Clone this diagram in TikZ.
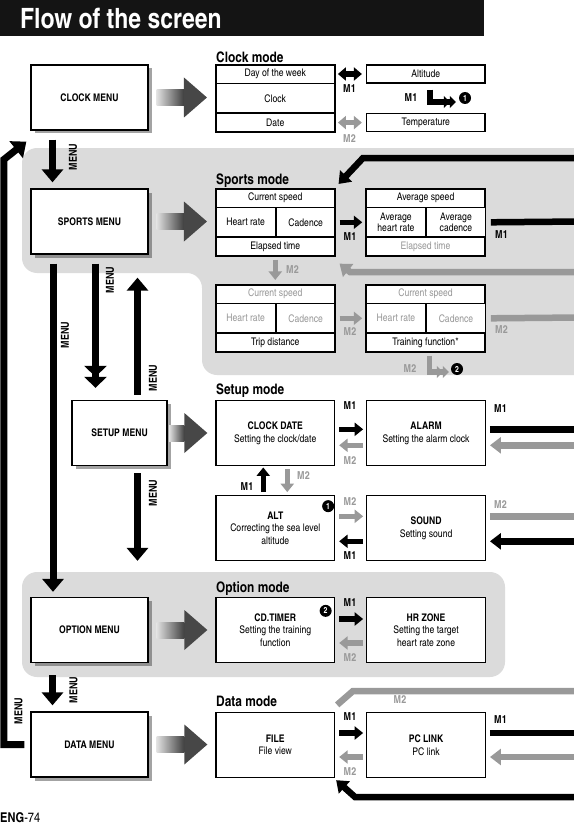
\documentclass[tikz,border=0pt]{standalone}
\usepackage{fontspec}
\setmainfont{texgyreheroscn}[Extension=.otf, UprightFont=*-regular, BoldFont=*-bold, ItalicFont=*-italic, BoldItalicFont=*-bolditalic]
\usetikzlibrary{arrows.meta,positioning,shadows,fit,calc}
\usepackage{xcolor}

\definecolor{areagray}{gray}{0.86}
\definecolor{mgray}{gray}{0.6}

% shaded arrow from a menu to the first screen of its mode
\newcommand{\bigarrow}[3]{%
  \path ([xshift=#3]#1.east) coordinate (ba0) (#1.east -| #2.west) ++(-8,0) coordinate (ba1);
  \shade[left color=black!12, right color=black!75] ($(ba0)+(0,-8)$) rectangle ($(ba1)+(-23,8)$);
  \fill[black!72] ($(ba1)+(-23,-20)$) -- (ba1) -- ($(ba1)+(-23,20)$) -- cycle;
}

\begin{document}
\begin{tikzpicture}[x=1pt, y=-1pt]
\tikzset{
    menubox/.style={rectangle, draw=black, fill=white, line width=1.3pt, minimum width=117pt, minimum height=65pt, inner sep=0pt, font=\bfseries\fontsize{10.5}{12}\selectfont, drop shadow={shadow xshift=3.5pt, shadow yshift=-3.5pt, fill=black!72}},
    modebox/.style={rectangle, draw=black, fill=white, line width=1.3pt, minimum width=118.5pt, minimum height=65pt, inner sep=0pt, align=center, font=\fontsize{10.5}{12.5}\selectfont},
    rowcell/.style={rectangle, draw=black, fill=white, line width=0.8pt, minimum width=118.5pt, minimum height=18pt, inner sep=0pt, font=\fontsize{10.5}{11}\selectfont},
    halfcell/.style={rowcell, minimum width=59.25pt, minimum height=29pt, align=center},
    tableframe/.style={rectangle, draw=black, line width=1.3pt, inner sep=0pt},
    modetitle/.style={anchor=base west, inner sep=0pt, font=\bfseries\fontsize{14.5}{16}\selectfont},
    mlabel/.style={inner sep=0pt, font=\bfseries\fontsize{11}{12}\selectfont},
    mlabelgray/.style={mlabel, text=mgray},
    menulabel/.style={mlabel, rotate=90, font=\bfseries\fontsize{11}{12}\selectfont},
    numdot/.style={circle, fill=black, text=white, inner sep=0pt, minimum size=12pt, font=\bfseries\fontsize{8.5}{8.5}\selectfont},
    menuarrow/.style={draw=black, line width=7pt, -{Triangle[width=21pt,length=13pt]}},
    menudouble/.style={menuarrow, -{Triangle[width=22pt,length=11pt]Triangle[width=22pt,length=11pt]}},
    mone/.style={draw=black, line width=5.5pt, -{Triangle[width=13pt,length=8.5pt]}},
    mtwo/.style={mone, draw=mgray},
    monedbl/.style={draw=black, line width=5.5pt, {Triangle[width=13pt,length=8pt]}-{Triangle[width=13pt,length=8pt]}},
    mtwodbl/.style={monedbl, draw=mgray},
    backblack/.style={draw=black, line width=6.5pt, -{Triangle[width=16pt,length=11pt]}},
    backgray/.style={backblack, draw=mgray},
    bentblack/.style={draw=black, line width=5.5pt, -{Triangle[width=12pt,length=6pt]Triangle[width=12pt,length=6pt]}},
    bentgray/.style={bentblack, draw=mgray}
}
\useasboundingbox (0,0) rectangle (573,824);

% grey areas behind sports and option mode
\fill[areagray, rounded corners=15pt] (100,148) -- (620,148) -- (620,375) -- (202,375) -- (202,273) -- (22,273) -- (22,148) -- cycle;
\fill[areagray, rounded corners=15pt] (22,572) rectangle (505,677);

% title
\fill[black!92] (0,0) rectangle (484,36);
\node[anchor=base west, inner sep=0pt, text=white, font=\bfseries\fontsize{28}{30}\selectfont] (title) at (20,29) {Flow of the screen};

% menus
\node[menubox] (clockmenu) at (89.5,97.5) {CLOCK MENU};
\node[menubox] (sportsmenu) at (89.5,221.5) {SPORTS MENU};
\node[menubox, minimum width=95pt] (setupmenu) at (119.5,433) {SETUP MENU};
\node[menubox] (optionmenu) at (89.5,630) {OPTION MENU};
\node[menubox] (datamenu) at (89.5,744.5) {DATA MENU};

% clock mode
\node[modetitle] (clocktitle) at (216,62.5) {Clock mode};
\node[rowcell] (dayrow) at (275.25,74) {Day of the week};
\node[rowcell, minimum height=29pt, anchor=north] (clockrow) at (dayrow.south) {Clock};
\node[rowcell, anchor=north] (daterow) at (clockrow.south) {Date};
\node[tableframe, fit=(dayrow)(daterow)] (clocktab) {};
\node[rowcell, line width=1.3pt, right=31pt of dayrow] (altituderow) {Altitude};
\node[rowcell, line width=1.3pt, right=31pt of daterow] (temprow) {Temperature};
\draw[monedbl] ([xshift=3pt]dayrow.east) -- ([xshift=-4pt]altituderow.west);
\draw[mtwodbl] ([xshift=3pt]daterow.east) -- ([xshift=-4pt]temprow.west);
\node[mlabel] (clkmone) at (349.5,89) {M1};
\node[mlabelgray] (clkmtwo) at (349.5,138.5) {M2};
\node[mlabel] (altmone) at (411,98) {M1};
\node[numdot] (dotone) at (465,98) {1};
\draw[bentblack] ([shift={(4,6)}]altituderow.south) |- ([shift={(-3,4)}]dotone.west);

% sports mode
\node[modetitle] (sportstitle) at (216,184) {Sports mode};
\node[rowcell] (sp1a) at (275.25,198) {Current speed};
\node[halfcell, anchor=north west] (sp1b) at (sp1a.south west) {Heart rate};
\node[halfcell, anchor=north west] (sp1c) at (sp1b.north east) {Cadence};
\node[rowcell, anchor=north west] (sp1d) at (sp1b.south west) {Elapsed time};
\node[tableframe, fit=(sp1a)(sp1d)] (sp1) {};
\node[rowcell, right=31pt of sp1a] (sp2a) {Average speed};
\node[halfcell, anchor=north west] (sp2b) at (sp2a.south west) {Average\\heart rate};
\node[halfcell, anchor=north west] (sp2c) at (sp2b.north east) {Average\\cadence};
\node[rowcell, anchor=north west, text=mgray] (sp2d) at (sp2b.south west) {Elapsed time};
\node[tableframe, fit=(sp2a)(sp2d)] (sp2) {};
\node[rowcell, text=mgray] (sp3a) at (275.25,294) {Current speed};
\node[halfcell, anchor=north west, text=mgray] (sp3b) at (sp3a.south west) {Heart rate};
\node[halfcell, anchor=north west, text=mgray] (sp3c) at (sp3b.north east) {Cadence};
\node[rowcell, anchor=north west] (sp3d) at (sp3b.south west) {Trip distance};
\node[tableframe, fit=(sp3a)(sp3d)] (sp3) {};
\node[rowcell, right=31pt of sp3a, text=mgray] (sp4a) {Current speed};
\node[halfcell, anchor=north west, text=mgray] (sp4b) at (sp4a.south west) {Heart rate};
\node[halfcell, anchor=north west, text=mgray] (sp4c) at (sp4b.north east) {Cadence};
\node[rowcell, anchor=north west] (sp4d) at (sp4b.south west) {Training function*};
\node[tableframe, fit=(sp4a)(sp4d)] (sp4) {};
\draw[mone] ([xshift=4pt]sp1.east) -- ([xshift=-3pt]sp2.west);
\draw[mtwo] ([xshift=4pt]sp3.east) -- ([xshift=-3pt]sp4.west);
\draw[mtwo] ([yshift=-3pt]sp1.south) -- ([yshift=4pt]sp3.north);
\node[mlabel] (spmone) at (350,237) {M1};
\node[mlabel] (spmoneout) at (501.5,235) {M1};
\node[mlabelgray] (spmtwodown) at (292.5,270) {M2};
\node[mlabelgray] (spmtwo) at (350,332) {M2};
\node[mlabelgray] (spmtwoout) at (501.5,330) {M2};
\node[mlabelgray] (spmtwobent) at (410,369) {M2};
\node[numdot] (dottwo) at (457,369) {2};
\draw[bentgray] ([shift={(4,3)}]sp4.south) |- ([shift={(-2,3)}]dottwo.west);
\coordinate (spback) at (580,158);
\coordinate (spout) at (580,221.5);
\coordinate (spret) at (580,272);
\coordinate (spout2) at (580,317.5);
\draw[backblack] (spback) -- ++(-217,0) -- ([shift={(3,-4)}]sp1.north east);
\draw[backblack, -] ([xshift=5pt]sp2.east) -- (spout);
\draw[backgray] (spret) -- ++(-230,0) -- ([shift={(4,7)}]sp1.south east);
\draw[backgray, -] ([xshift=5pt]sp4.east) -- (spout2);

% setup mode
\node[modetitle] (setuptitle) at (216,394.5) {Setup mode};
\node[modebox] (clockdate) at (275.25,433.3) {\textbf{CLOCK DATE}\\Setting the clock/date};
\node[modebox, right=31pt of clockdate] (alarm) {\textbf{ALARM}\\Setting the alarm clock};
\node[modebox] (altitude) at (275.25,528.3) {\textbf{ALT}\\Correcting the sea level\\altitude};
\node[modebox, right=31pt of altitude] (sound) {\textbf{SOUND}\\Setting sound};
\node[numdot] (dotalt) at ([shift={(-7,11)}]altitude.north east) {1};
\draw[mone] ([shift={(4,-4)}]clockdate.east) -- ([shift={(-3,-4)}]alarm.west);
\draw[mtwo] ([shift={(-3,12)}]alarm.west) -- ([shift={(4,12)}]clockdate.east);
\draw[mtwo] ([shift={(4,-12)}]altitude.east) -- ([shift={(-3,-12)}]sound.west);
\draw[mone] ([shift={(-3,13)}]sound.west) -- ([shift={(4,13)}]altitude.east);
\draw[mone] ([shift={(-12,-3)}]altitude.north) -- ([shift={(-12,1)}]clockdate.south);
\draw[mtwo] ([shift={(12,3)}]clockdate.south) -- ([shift={(12,-3)}]altitude.north);
\node[mlabel] (cdmone) at (350,405.5) {M1};
\node[mlabelgray] (cdmtwo) at (350,460.5) {M2};
\node[mlabel] (upmone) at (247,487) {M1};
\node[mlabelgray] (downmtwo) at (303.5,476) {M2};
\node[mlabelgray] (altmtwo) at (350,502) {M2};
\node[mlabel] (altmonein) at (350,556) {M1};
\node[mlabel] (alarmmone) at (500.5,408.5) {M1};
\node[mlabelgray] (soundmtwo) at (500.5,505) {M2};
\coordinate (setout1) at (580,429.3);
\coordinate (setin1) at (580,445.3);
\coordinate (setout2) at (580,516.3);
\coordinate (setin2) at (580,541.3);
\draw[backblack, -] ([shift={(4,-4)}]alarm.east) -- (setout1);
\draw[backgray] (setin1) -- ([shift={(4,12)}]alarm.east);
\draw[backgray, -] ([shift={(4,-12)}]sound.east) -- (setout2);
\draw[backblack] (setin2) -- ([shift={(4,13)}]sound.east);

% option mode
\node[modetitle] (optiontitle) at (216,592.5) {Option mode};
\node[modebox] (cdtimer) at (275.25,630) {\textbf{CD.TIMER}\\Setting the training\\function};
\node[modebox, right=31pt of cdtimer] (hrzone) {\textbf{HR ZONE}\\Setting the target\\heart rate zone};
\node[numdot] (dotcd) at ([shift={(-9.5,14)}]cdtimer.north east) {2};
\draw[mone] ([shift={(4,-11)}]cdtimer.east) -- ([shift={(-3,-11)}]hrzone.west);
\draw[mtwo] ([shift={(-3,13)}]hrzone.west) -- ([shift={(4,13)}]cdtimer.east);
\node[mlabel] (cdtmone) at (350,603) {M1};
\node[mlabelgray] (cdtmtwo) at (350,658) {M2};

% data mode
\node[modetitle] (datatitle) at (216,706.5) {Data mode};
\node[modebox] (file) at (275.25,745) {\textbf{FILE}\\File view};
\node[modebox, right=31pt of file] (pclink) {\textbf{PC LINK}\\PC link};
\draw[mone] ([shift={(4,-12)}]file.east) -- ([shift={(-3,-12)}]pclink.west);
\draw[mtwo] ([shift={(-3,12)}]pclink.west) -- ([shift={(4,12)}]file.east);
\node[mlabel] (filemone) at (350,717) {M1};
\node[mlabelgray] (filemtwo) at (350,772) {M2};
\node[mlabel] (pcmone) at (500.5,720) {M1};
\node[mlabelgray] (pcmtwo) at (400,700) {M2};
\coordinate (databack) at (580,691);
\coordinate (dataout) at (580,733);
\coordinate (datain) at (580,757);
\coordinate (dataret) at (580,797);
\draw[backgray, -] (databack) -- ++(-227,0) -- ([shift={(2,-7)}]file.north east);
\draw[backblack, -] ([shift={(4,-12)}]pclink.east) -- (dataout);
\draw[backgray] (datain) -- ([shift={(4,12)}]pclink.east);
\draw[backblack] (dataret) -- ++(-225,0) -- ([shift={(1,2)}]file.south east);

% menu to mode arrows
\bigarrow{clockmenu}{clocktab}{8pt}
\bigarrow{sportsmenu}{sp1}{8pt}
\bigarrow{setupmenu}{clockdate}{1.5pt}
\bigarrow{optionmenu}{cdtimer}{8pt}
\bigarrow{datamenu}{file}{8pt}

% MENU key between the menus
\draw[menuarrow] ([shift={(-37,9)}]clockmenu.south) -- ([shift={(-37,-6)}]sportsmenu.north);
\draw[menuarrow] ([shift={(-36.5,9)}]sportsmenu.south) -- ([shift={(-36.5,-5)}]optionmenu.north);
\draw[menudouble] ([shift={(6,9)}]sportsmenu.south) -- ([shift={(-24,-12)}]setupmenu.north);
\draw[menuarrow] ([shift={(18,-5)}]setupmenu.north) -- ([shift={(48,23)}]sportsmenu.south);
\draw[menuarrow] ([shift={(18,7)}]setupmenu.south) -- ([shift={(48,-36)}]optionmenu.north);
\draw[menuarrow] ([shift={(-37,12)}]optionmenu.south) -- ([shift={(-37,-6)}]datamenu.north);
\draw[menuarrow] ([xshift=-6pt]datamenu.west) -| ++(-20.5,-585) -- ([shift={(-4,11)}]clockmenu.south west);
\node[menulabel] (lblclock) at (73,157) {MENU};
\node[menulabel] (lbloption) at (65,335) {MENU};
\node[menulabel] (lblsetdown) at (110,280) {MENU};
\node[menulabel] (lblsetup) at (153,378) {MENU};
\node[menulabel] (lblsetopt) at (153,493) {MENU};
\node[menulabel] (lbldata) at (73.5,690) {MENU};
\node[menulabel] (lblback) at (18.5,711) {MENU};

% page number
\node[anchor=base west, inner sep=0pt, font=\fontsize{13.5}{15}\selectfont] (pagenum) at (0,822) {\textbf{ENG}-74};
\end{tikzpicture}
\end{document}
